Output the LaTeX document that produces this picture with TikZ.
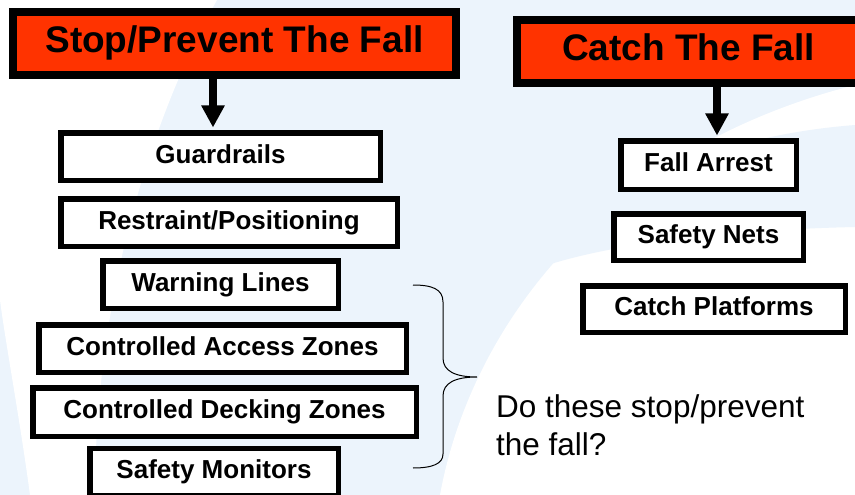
\documentclass[tikz,border=0pt]{standalone}
\usepackage{fontspec}
\setmainfont{Liberation Sans}
\usetikzlibrary{arrows.meta}
\definecolor{fallred}{RGB}{255,51,0}
\definecolor{paleblue}{RGB}{236,244,252}

\begin{document}
\begin{tikzpicture}[
  x=1pt, y=-1pt,
  hdr/.style={draw, line width=8pt, fill=fallred, inner sep=0pt, minimum height=63pt,
    text height=27pt, text depth=8pt, font=\fontsize{37}{44}\selectfont\bfseries},
  item/.style={draw, line width=5.5pt, fill=white, inner sep=0pt, minimum height=47.5pt,
    text height=19pt, text depth=5.5pt, font=\fontsize{26}{31}\selectfont\bfseries},
  arr/.style={-{Triangle[width=22pt,length=22pt]}, line width=7.5pt, shorten >=2.5pt}
]
\clip (0,0) rectangle (855,495);
% background swooshes
\fill[paleblue] (0,0) rectangle (855,495);
\fill[white] (0,0) -- (217,0) .. controls (150,120) and (95,300) .. (95,495) -- (30,495)
  .. controls (20,420) and (5,340) .. (0,300) -- cycle;
\fill[white] (440,495) .. controls (470,330) and (600,150) .. (855,85) -- (855,495) -- cycle;
\fill[paleblue] (533,270) .. controls (620,175) and (730,135) .. (855,125) -- (855,227)
  .. controls (720,230) and (600,245) .. (533,270) -- cycle;

% left column
\node[hdr, minimum width=443pt] (stop) at (234.5,43.5) {Stop/Prevent The Fall};
\node[item, minimum width=319.5pt] (guard) at (220.5,156.5) {Guardrails};
\node[item, minimum width=336.5pt] (restr) at (229,222.5) {Restraint/Positioning};
\node[item, minimum width=235.5pt] (warn) at (220.5,284.5) {Warning Lines};
\node[item, minimum width=367.5pt] (access) at (222.5,348.5) {Controlled Access Zones};
\node[item, minimum width=383.5pt, minimum height=48.5pt] (decking) at (224.5,412) {Controlled Decking Zones};
\node[item, minimum width=248.5pt] (monitor) at (214,472) {Safety Monitors};

% right column
\node[hdr, minimum width=343pt] (catch) at (688.5,51.5) {Catch The Fall};
\node[item, minimum width=175.5pt, minimum height=48.5pt] (arrest) at (708.5,165) {Fall Arrest};
\node[item, minimum width=189.5pt, minimum height=46.5pt] (nets) at (708.5,237) {Safety Nets};
\node[item, minimum width=262.5pt, minimum height=46.5pt] (platform) at (714,309) {Catch Platforms};

\draw[arr] ([xshift=-21.5pt]stop.south) -- ([xshift=-7.5pt]guard.north);
\draw[arr] ([xshift=28.5pt]catch.south) -- ([xshift=8.5pt]arrest.north);

% brace and question
\draw[line width=1pt] (413,285) .. controls (432,285) and (443,289) .. (443,302) -- (443,358)
  .. controls (443,371) and (455,377) .. (477,377)
  .. controls (455,377) and (443,383) .. (443,396) -- (443,454)
  .. controls (443,464) and (432,468) .. (413,468);
\node[anchor=north west, align=left, inner sep=0pt, font=\fontsize{31.5}{38}\selectfont] (quest) at (496,394)
  {Do these stop/prevent\\the fall?};
\end{tikzpicture}
\end{document}
